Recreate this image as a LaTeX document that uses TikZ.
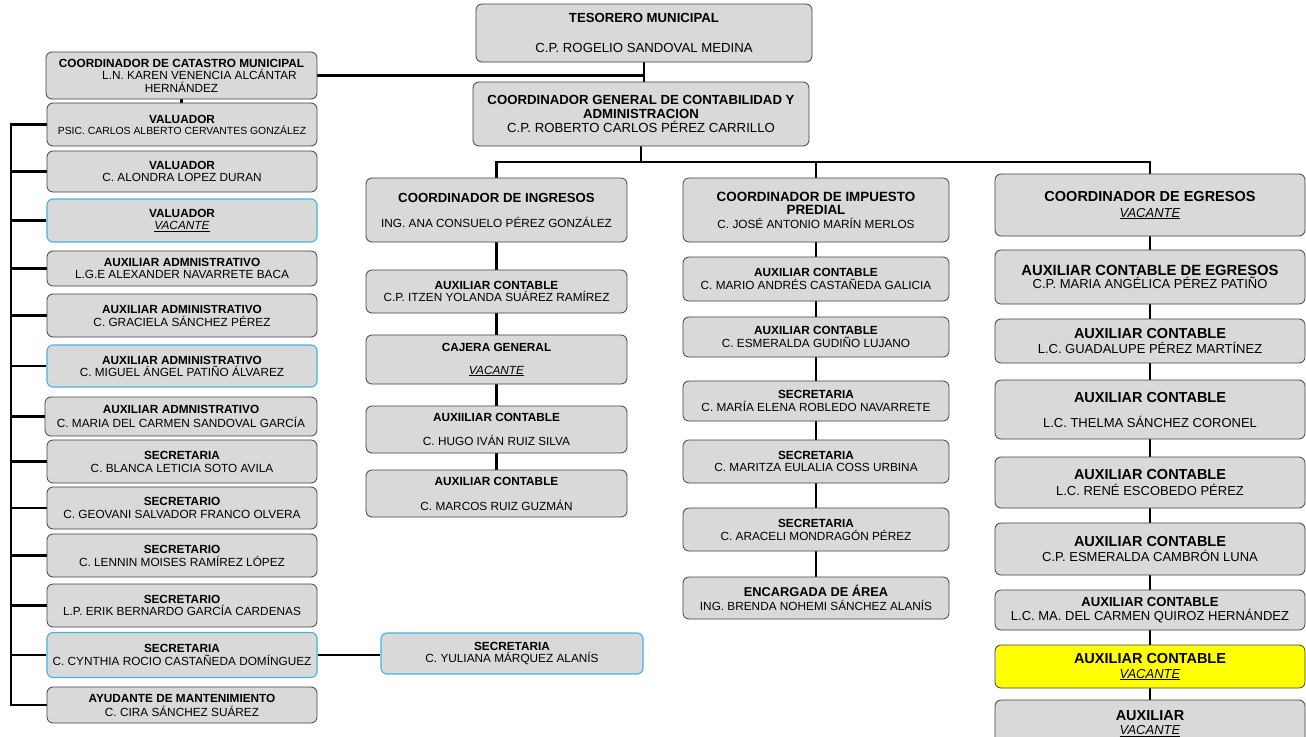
\documentclass[tikz,border=0pt]{standalone}
\usepackage{fontspec}
\setmainfont{Liberation Sans}
\usetikzlibrary{backgrounds}
\definecolor{boxgray}{HTML}{D9D9D9}
\definecolor{bordergray}{HTML}{404040}
\definecolor{cyanb}{HTML}{3DB5E6}
\definecolor{yel}{HTML}{FFFF00}
\newcommand\fs[2]{\fontsize{#1}{#2}\selectfont}
\newcommand\vac{\underline{\textit{VACANTE}}}
\begin{document}
\begin{tikzpicture}[x=1pt,y=-1pt,
  box/.style={draw=bordergray, fill=boxgray, rounded corners=6pt, line width=0.8pt, align=center, inner sep=0pt},
  bbox/.style={box, draw=cyanb, line width=1.1pt},
  ybox/.style={box, fill=yel},
  ln/.style={line width=2.6pt, black},
  colL/.style={minimum width=270pt},
  colI/.style={minimum width=261pt},
  colP/.style={minimum width=266pt},
  colE/.style={minimum width=310pt},
  gapf/.style={font=\fs{11.8}{#1}},
  gape/.style={font=\fs{13}{#1}}]
\useasboundingbox (0,0) rectangle (1306,736);
\clip (0,0) rectangle (1306,736);

% top
\node[box, minimum width=336pt, minimum height=58pt, font=\fs{13.2}{30}] (tes) at (644,33)
  {\textbf{TESORERO MUNICIPAL}\\C.P. ROGELIO SANDOVAL MEDINA};
\node[box, minimum width=336pt, minimum height=64pt, font=\fs{13.2}{14}] (cg) at (641,114)
  {\textbf{COORDINADOR GENERAL DE CONTABILIDAD Y}\\\textbf{ADMINISTRACION}\\C.P. ROBERTO CARLOS PÉREZ CARRILLO};
\node[box, minimum width=271pt, minimum height=47pt, font=\fs{11.8}{12.5}] (cat) at (181.5,75.5)
  {\textbf{COORDINADOR DE CATASTRO MUNICIPAL}\\\hspace*{36pt}L.N. KAREN VENENCIA ALCÁNTAR\\HERNÁNDEZ};

% left column
\node[box, colL, minimum height=43pt, gapf=11] (l1) at (182,124.5)
  {\textbf{VALUADOR}\\{\fs{10.4}{11}PSIC. CARLOS ALBERTO CERVANTES GONZÁLEZ}};
\node[box, colL, minimum height=41pt, gapf=12] (l2) at (182,171.5)
  {\textbf{VALUADOR}\\C. ALONDRA LOPEZ DURAN};
\node[bbox, colL, minimum height=43pt, gapf=11.5] (l3) at (182,220.5)
  {\textbf{VALUADOR}\\\vac};
\node[box, colL, minimum height=35pt, gapf=12] (l4) at (182,268.5)
  {\textbf{AUXILIAR ADMNISTRATIVO}\\L.G.E ALEXANDER NAVARRETE BACA};
\node[box, colL, minimum height=43pt, gapf=13] (l5) at (182,315.5)
  {\textbf{AUXILIAR ADMINISTRATIVO}\\C. GRACIELA SÁNCHEZ PÉREZ};
\node[bbox, colL, minimum height=42pt, gapf=12] (l6) at (182,366)
  {\textbf{AUXILIAR ADMINISTRATIVO}\\C. MIGUEL ÁNGEL PATIÑO ÁLVAREZ};
\node[box, minimum width=272pt, minimum height=39pt, gapf=14] (l7) at (181,416.5)
  {\textbf{AUXILIAR ADMNISTRATIVO}\\C. MARIA DEL CARMEN SANDOVAL GARCÍA};
\node[box, colL, minimum height=43pt, gapf=13] (l8) at (182,461.5)
  {\textbf{SECRETARIA}\\C. BLANCA LETICIA SOTO AVILA};
\node[box, colL, minimum height=42pt, gapf=13] (l9) at (182,508)
  {\textbf{SECRETARIO}\\C. GEOVANI SALVADOR FRANCO OLVERA};
\node[box, colL, minimum height=43pt, gapf=13] (l10) at (182,555.5)
  {\textbf{SECRETARIO}\\C. LENNIN MOISES RAMÍREZ LÓPEZ};
\node[box, colL, minimum height=43pt, gapf=12.5] (l11) at (182,605.5)
  {\textbf{SECRETARIO}\\L.P. ERIK BERNARDO GARCÍA CARDENAS};
\node[bbox, colL, minimum height=45pt, gapf=13] (l12) at (182,655)
  {\textbf{SECRETARIA}\\C. CYNTHIA ROCIO CASTAÑEDA DOMÍNGUEZ};
\node[box, colL, minimum height=36pt, gapf=14] (l13) at (182,705)
  {\textbf{AYUDANTE DE MANTENIMIENTO}\\C. CIRA SÁNCHEZ SUÁREZ};
\node[bbox, minimum width=262pt, minimum height=41pt, gapf=12] (yul) at (512,653.5)
  {\textbf{SECRETARIA}\\C. YULIANA MÁRQUEZ ALANÍS};

% column ingresos
\node[box, colI, minimum height=64pt, gapf=25] (i1) at (496.5,210)
  {{\fs{13.2}{25}\bfseries COORDINADOR DE INGRESOS}\\ING. ANA CONSUELO PÉREZ GONZÁLEZ};
\node[box, colI, minimum height=43pt, gapf=12] (i2) at (496.5,291.5)
  {\textbf{AUXILIAR CONTABLE}\\C.P. ITZEN YOLANDA SUÁREZ RAMÍREZ};
\node[box, colI, minimum height=49pt, gapf=23] (i3) at (496.5,359.5)
  {\textbf{CAJERA GENERAL}\\\vac};
\node[box, colI, minimum height=47pt, gapf=24] (i4) at (496.5,429.5)
  {\textbf{AUXIILIAR CONTABLE}\\C. HUGO IVÁN RUIZ SILVA};
\node[box, colI, minimum height=47pt, gapf=25] (i5) at (496.5,493.5)
  {\textbf{AUXILIAR CONTABLE}\\C. MARCOS RUIZ GUZMÁN};

% column impuesto predial
\node[box, colP, minimum height=64pt, gapf=13.5] (p1) at (816,210)
  {{\fs{13.4}{14}\bfseries COORDINADOR DE IMPUESTO}\\{\fs{13.4}{14}\bfseries PREDIAL}\\C. JOSÉ ANTONIO MARÍN MERLOS};
\node[box, colP, minimum height=44pt, gapf=13] (p2) at (816,279)
  {\textbf{AUXILIAR CONTABLE}\\C. MARIO ANDRÉS CASTAÑEDA GALICIA};
\node[box, colP, minimum height=40pt, gapf=12.5] (p3) at (816,337)
  {\textbf{AUXILIAR CONTABLE}\\C. ESMERALDA GUDIÑO LUJANO};
\node[box, colP, minimum height=40pt, gapf=13] (p4) at (816,401)
  {\textbf{SECRETARIA}\\C. MARÍA ELENA ROBLEDO NAVARRETE};
\node[box, colP, minimum height=43pt, gapf=12.5] (p5) at (816,461.5)
  {\textbf{SECRETARIA}\\C. MARITZA EULALIA COSS URBINA};
\node[box, colP, minimum height=43pt, gapf=13] (p6) at (816,529.5)
  {\textbf{SECRETARIA}\\C. ARACELI MONDRAGÓN PÉREZ};
\node[box, colP, minimum height=42pt, gapf=13.5] (p7) at (816,598)
  {{\fs{12.8}{13}\bfseries ENCARGADA DE ÁREA}\\ING. BRENDA NOHEMI SÁNCHEZ ALANÍS};

% column egresos
\node[box, colE, minimum height=62pt, gape=16] (e1) at (1150,205)
  {{\fs{14.5}{16}\bfseries COORDINADOR DE EGRESOS}\\\vac};
\node[box, colE, minimum height=54pt, gape=13.5] (e2) at (1150,277)
  {{\fs{14.8}{14}\bfseries AUXILIAR CONTABLE DE EGRESOS}\\C.P. MARIA ANGÉLICA PÉREZ PATIÑO};
\node[box, colE, minimum height=44pt, gape=15] (e3) at (1150,341)
  {{\fs{14.5}{15}\bfseries AUXILIAR CONTABLE}\\L.C. GUADALUPE PÉREZ MARTÍNEZ};
\node[box, colE, minimum height=59pt, gape=25] (e4) at (1150,409.5)
  {{\fs{14.5}{15}\bfseries AUXILIAR CONTABLE}\\L.C. THELMA SÁNCHEZ CORONEL};
\node[box, colE, minimum height=51pt, gape=16] (e5) at (1150,482.5)
  {{\fs{14.5}{15}\bfseries AUXILIAR CONTABLE}\\L.C. RENÉ ESCOBEDO PÉREZ};
\node[box, colE, minimum height=52pt, gape=15] (e6) at (1150,549)
  {{\fs{14.5}{15}\bfseries AUXILIAR CONTABLE}\\C.P. ESMERALDA CAMBRÓN LUNA};
\node[box, colE, minimum height=40pt, gape=14] (e7) at (1150,610)
  {{\fs{13.1}{14}\bfseries AUXILIAR CONTABLE}\\L.C. MA. DEL CARMEN QUIROZ HERNÁNDEZ};
\node[ybox, colE, minimum height=43pt, gape=15] (e8) at (1150,666.5)
  {{\fs{14.5}{15}\bfseries AUXILIAR CONTABLE}\\\vac};
\node[box, colE, minimum height=48pt, gape=14] (e9) at (1150,724)
  {{\fs{14.5}{15}\bfseries AUXILIAR}\\\vac};

\coordinate (lb) at (11,0);
\coordinate (bus) at (0,162);

\begin{scope}[on background layer]
  \draw[ln] (tes.south) -- (tes.south |- cg.north);
  \draw[ln] (cat.east) -- (cat.east -| tes.south);
  \draw[ln] (cat.south) -- (cat.south |- l1.north);
  \draw[ln] (cg.south) -- (cg.south |- bus);
  \draw[ln] (i1.north) -- (i1.north |- bus) -- (e1.north |- bus) -- (e1.north);
  \draw[ln] (p1.north) -- (p1.north |- bus);
  % left bracket
  \draw[ln] (l1.west) -- (l1.west -| lb) -- (l13.west -| lb) -- (l13.west);
  \foreach \n in {l2,l3,l4,l5,l6,l7,l8,l9,l10,l11,l12}
    \draw[ln] (\n.west) -- (\n.west -| lb);
  \draw[ln] (l12.east) -- (l12.east -| yul.west);
  % chains
  \foreach \a/\b in {i1/i2,i2/i3,i3/i4,i4/i5,p1/p2,p2/p3,p3/p4,p4/p5,p5/p6,p6/p7,e1/e2,e2/e3,e3/e4,e4/e5,e5/e6,e6/e7,e7/e8,e8/e9}
    \draw[ln] (\a.south) -- (\b.north);
\end{scope}
\end{tikzpicture}
\end{document}
